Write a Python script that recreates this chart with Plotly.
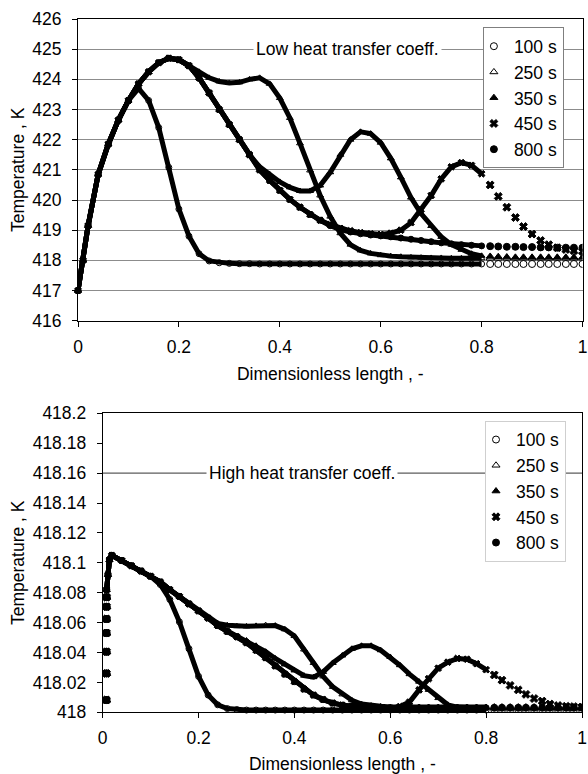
import plotly.graph_objects as go

FONT = "Liberation Sans, Arial, sans-serif"

SERIES_NAMES = ["100 s", "250 s", "350 s", "450 s", "800 s"]
SYMBOLS = ["circle-open", "triangle-up-open", "triangle-up", "x", "circle"]

X_TICKS = [0, 0.2, 0.4, 0.6, 0.8, 1.0]
X_TICK_TEXT = ["0", "0.2", "0.4", "0.6", "0.8", "1"]
TOP_Y_TICKS = [416, 417, 418, 419, 420, 421, 422, 423, 424, 425, 426]
BOT_Y_TICKS = [418.0, 418.02, 418.04, 418.06, 418.08, 418.1, 418.12, 418.14, 418.16, 418.18, 418.2]
BOT_Y_TICK_TEXT = ["418", "418.02", "418.04", "418.06", "418.08", "418.1",
                   "418.12", "418.14", "418.16", "418.18", "418.2"]

# ---------------- top panel (low heat transfer coeff.) ----------------
TOP_X = [0.00, 0.01, 0.02, 0.04, 0.06, 0.08, 0.10, 0.12, 0.14, 0.16, 0.18, 0.20, 0.22,
         0.24, 0.26, 0.28, 0.30, 0.32, 0.34, 0.36, 0.38, 0.40, 0.42, 0.44, 0.46, 0.48,
         0.50, 0.52, 0.54, 0.56, 0.58, 0.60, 0.62, 0.64, 0.66, 0.68, 0.70, 0.72, 0.74,
         0.76, 0.78, 0.80]
TOP_RISE = [417.00, 418.00, 419.15, 420.85, 421.85, 422.65, 423.30, 423.85, 424.25,
            424.55, 424.70, 424.65, 424.45]
TOP_T_100 = [417.00, 418.00, 419.15, 420.85, 421.85, 422.65, 423.30, 423.70, 423.30,
             422.40, 421.08, 419.70, 418.80, 418.22, 417.98, 417.92, 417.90, 417.89,
             417.89] + [417.88] * 23
TOP_T_250 = TOP_RISE + [424.25, 424.05, 423.93, 423.88, 423.90, 424.00, 424.05,
                        423.85, 423.38, 422.72, 421.88, 420.98, 420.15,
                        419.45, 418.90, 418.52, 418.33, 418.23, 418.17,
                        418.14, 418.12, 418.10, 418.09, 418.08, 418.08, 418.07, 418.07,
                        418.07, 418.07]
TOP_T_350 = TOP_RISE + [424.05, 423.55, 423.00, 422.50, 422.00, 421.50, 421.10,
                        420.85, 420.60, 420.42, 420.30, 420.30, 420.48,
                        420.92, 421.50, 422.00, 422.26, 422.20, 421.90,
                        421.38, 420.75, 420.08, 419.55, 419.14, 418.78, 418.52, 418.35,
                        418.22, 418.15]
TOP_T_450 = TOP_RISE + [424.05, 423.55, 423.00, 422.50, 422.00, 421.50, 421.00,
                        420.65, 420.32, 420.02, 419.76, 419.52, 419.33,
                        419.18, 419.06, 418.98, 418.92, 418.88, 418.86,
                        418.90, 419.00, 419.25, 419.68, 420.15, 420.70, 421.10, 421.24,
                        421.15, 420.87]
TOP_T_800 = TOP_RISE + [424.05, 423.55, 423.00, 422.50, 422.00, 421.50, 421.00,
                        420.65, 420.32, 420.02, 419.76, 419.52, 419.33,
                        419.15, 419.02, 418.94, 418.88, 418.84, 418.81,
                        418.78, 418.74, 418.70, 418.66, 418.62, 418.58, 418.55, 418.52,
                        418.50, 418.48]

TAIL_X = [0.817, 0.833, 0.850, 0.867, 0.883, 0.900, 0.917, 0.933, 0.950, 0.967, 0.983, 1.000]
TOP_TAIL_100 = [417.88] * 12
TOP_TAIL_250 = [418.07] * 12
TOP_TAIL_350 = [418.13, 418.12, 418.11, 418.10, 418.10, 418.10, 418.10, 418.10,
                418.10, 418.10, 418.10, 418.10]
TOP_TAIL_450 = [420.50, 420.12, 419.76, 419.42, 419.12, 418.87, 418.66, 418.52,
                418.42, 418.36, 418.32, 418.30]
TOP_TAIL_800 = [418.47, 418.46, 418.45, 418.45, 418.44, 418.44, 418.43, 418.43,
                418.42, 418.42, 418.42, 418.42]

# ---------------- bottom panel (high heat transfer coeff.) ----------------
BOT_X_INLET = [0.0078, 0.0079, 0.0080, 0.0080, 0.0081, 0.0081, 0.0082]
BOT_T_INLET = [418.0082, 418.026, 418.0405, 418.053, 418.0624, 418.0706, 418.077]
BOT_X = [0.0083, 0.011, 0.014, 0.019, 0.04, 0.06, 0.08, 0.10, 0.12, 0.14, 0.16, 0.18,
         0.20, 0.22, 0.24, 0.26, 0.28, 0.30, 0.32, 0.34, 0.36, 0.38, 0.40, 0.42, 0.44,
         0.46, 0.48, 0.50, 0.52, 0.54, 0.56, 0.58, 0.60, 0.62, 0.64, 0.66, 0.68, 0.70,
         0.72, 0.74, 0.76, 0.78, 0.80]
BOT_PEAK = [418.082, 418.092, 418.102, 418.105, 418.1015, 418.098, 418.0945, 418.091]
BOT_T_100 = BOT_PEAK + [418.0855, 418.0755, 418.0605, 418.0425, 418.024, 418.0115,
                        418.005, 418.0025, 418.0018] + [418.0015] * 26
BOT_T_250 = BOT_PEAK + [418.0872, 418.082, 418.0775, 418.0725, 418.0678, 418.063,
                        418.0595, 418.0582, 418.0576, 418.0575, 418.0578, 418.0583, 418.058,
                        418.0555, 418.051, 418.042, 418.033, 418.024, 418.017, 418.012,
                        418.008, 418.0055, 418.0045, 418.004] + [418.0035] * 11
BOT_T_350 = BOT_PEAK + [418.0872, 418.082, 418.0775, 418.0725, 418.0678, 418.063,
                        418.058, 418.0545, 418.051, 418.048, 418.0445, 418.0405, 418.036,
                        418.032, 418.028, 418.0245, 418.0235, 418.027, 418.033, 418.038,
                        418.0425, 418.0445, 418.0445, 418.0415,
                        418.037, 418.0315, 418.0255, 418.0205, 418.015, 418.0095, 418.005,
                        418.0035, 418.003, 418.003, 418.003]
BOT_T_450 = BOT_PEAK + [418.0872, 418.082, 418.0775, 418.0725, 418.0678, 418.063,
                        418.058, 418.054, 418.0505, 418.0465, 418.0415, 418.0365, 418.031,
                        418.0255, 418.0205, 418.0155, 418.0115, 418.0085, 418.0062,
                        418.0048, 418.004, 418.0034, 418.003, 418.0028,
                        418.0028, 418.0038, 418.0068, 418.015, 418.0225, 418.0295,
                        418.0335, 418.036, 418.0355, 418.0325, 418.0285]
BOT_T_800 = BOT_PEAK + [418.0872, 418.082, 418.0775, 418.0725, 418.0678, 418.063,
                        418.058, 418.054, 418.0505, 418.0465, 418.0415, 418.0365, 418.031,
                        418.0255, 418.0205, 418.0155, 418.0115, 418.0085, 418.0062,
                        418.0048, 418.004, 418.0034, 418.003] + [418.003] * 12
BOT_TAIL_100 = [418.0015] * 12
BOT_TAIL_250 = [418.0035] * 12
BOT_TAIL_350 = [418.003] * 12
BOT_TAIL_450 = [418.025, 418.0215, 418.018, 418.015, 418.012, 418.0092, 418.0075,
                418.0055, 418.0045, 418.004, 418.0038, 418.0035]
BOT_TAIL_800 = [418.003] * 12

TOP_DENSE = [TOP_T_100, TOP_T_250, TOP_T_350, TOP_T_450, TOP_T_800]
TOP_TAILS = [TOP_TAIL_100, TOP_TAIL_250, TOP_TAIL_350, TOP_TAIL_450, TOP_TAIL_800]
BOT_DENSE = [BOT_T_100, BOT_T_250, BOT_T_350, BOT_T_450, BOT_T_800]
BOT_TAILS = [BOT_TAIL_100, BOT_TAIL_250, BOT_TAIL_350, BOT_TAIL_450, BOT_TAIL_800]

fig = go.Figure()

def add_panel(xa, ya, leg, dense_x, dense_list, tail_x_list, tail_y_list):
    for name, sym, yv in zip(SERIES_NAMES, SYMBOLS, dense_list):
        fig.add_trace(go.Scatter(
            x=dense_x, y=yv, mode="lines+markers", name=name, showlegend=False,
            legendgroup=leg + name, xaxis=xa, yaxis=ya, cliponaxis=False,
            line=dict(color="black", width=5),
            marker=dict(symbol=sym, size=6, color="black", line=dict(color="black", width=1))))
    for name, sym, tx, ty in zip(SERIES_NAMES, SYMBOLS, tail_x_list, tail_y_list):
        fig.add_trace(go.Scatter(
            x=tx, y=ty, mode="markers", name=name, showlegend=True, legend=leg,
            legendgroup=leg + name, xaxis=xa, yaxis=ya, cliponaxis=True,
            marker=dict(symbol=sym, size=7, color="black", line=dict(color="black", width=1))))

add_panel("x", "y", "legend", TOP_X, TOP_DENSE, [TAIL_X] * 5, TOP_TAILS)
add_panel("x2", "y2", "legend2", BOT_X, BOT_DENSE,
          [BOT_X_INLET + TAIL_X] * 5, [BOT_T_INLET + t for t in BOT_TAILS])

axis_common = dict(showline=True, linecolor="black", linewidth=1, mirror=True,
                   ticks="outside", ticklen=5, tickcolor="black", zeroline=False,
                   automargin=False, ticklabeloverflow="allow",
                   tickfont=dict(family=FONT, size=17.5, color="black"))
x_common = dict(axis_common, ticklabelstandoff=5)
y_common = dict(axis_common, ticklabelstandoff=7)

fig.update_layout(
    template="none",
    width=588, height=774,
    margin=dict(l=0, r=0, t=0, b=0, pad=0),
    paper_bgcolor="white", plot_bgcolor="white",
    font=dict(family=FONT, size=17.5, color="black"),
    xaxis=dict(domain=[78 / 588, 582.5 / 588], anchor="y", range=[0, 1],
               tickvals=X_TICKS, ticktext=X_TICK_TEXT, showgrid=False,
               title=dict(text="Dimensionless length , -", standoff=12,
                          font=dict(family=FONT, size=17.5)), **x_common),
    yaxis=dict(domain=[0.58566, 0.97545], anchor="x", range=[416, 426],
               tickvals=TOP_Y_TICKS, showgrid=True, gridcolor="#8c8c8c", gridwidth=1,
               title=dict(text="Temperature , K", standoff=3,
                          font=dict(family=FONT, size=17.5)), **y_common),
    xaxis2=dict(domain=[102.7 / 588, 582 / 588], anchor="y2", range=[0, 1],
                tickvals=X_TICKS, ticktext=X_TICK_TEXT, showgrid=False,
                title=dict(text="Dimensionless length , -", standoff=12,
                           font=dict(family=FONT, size=17.5)), **x_common),
    yaxis2=dict(domain=[0.07972, 0.46602], anchor="x2", range=[418, 418.2],
                tickvals=BOT_Y_TICKS, ticktext=BOT_Y_TICK_TEXT, showgrid=False,
                title=dict(text="Temperature , K", standoff=3,
                           font=dict(family=FONT, size=17.5)), **y_common),
    legend=dict(x=0.959, xanchor="right", y=0.9647, yanchor="top",
                bgcolor="white", bordercolor="#7f7f7f", borderwidth=1,
                font=dict(family=FONT, size=17.5), indentation=-10, tracegroupgap=0),
    legend2=dict(x=0.9626, xanchor="right", y=0.4565, yanchor="top",
                 bgcolor="white", bordercolor="#cfcfcf", borderwidth=1,
                 font=dict(family=FONT, size=17.5), indentation=-10, tracegroupgap=0),
    annotations=[
        dict(text="Low heat transfer coeff.", x=0.535, y=425, xref="x", yref="y",
             showarrow=False, bgcolor="white", borderpad=2,
             font=dict(family=FONT, size=17.5, color="black")),
        dict(text="High heat transfer coeff.", x=0.415, y=418.16, xref="x2", yref="y2",
             showarrow=False, bgcolor="white", borderpad=2,
             font=dict(family=FONT, size=17.5, color="black")),
    ],
    shapes=[dict(type="line", xref="x2 domain", x0=0, x1=1, yref="y2", y0=418.16, y1=418.16,
                 line=dict(color="#333333", width=1), layer="below")],
)

fig.write_html("out.html")
